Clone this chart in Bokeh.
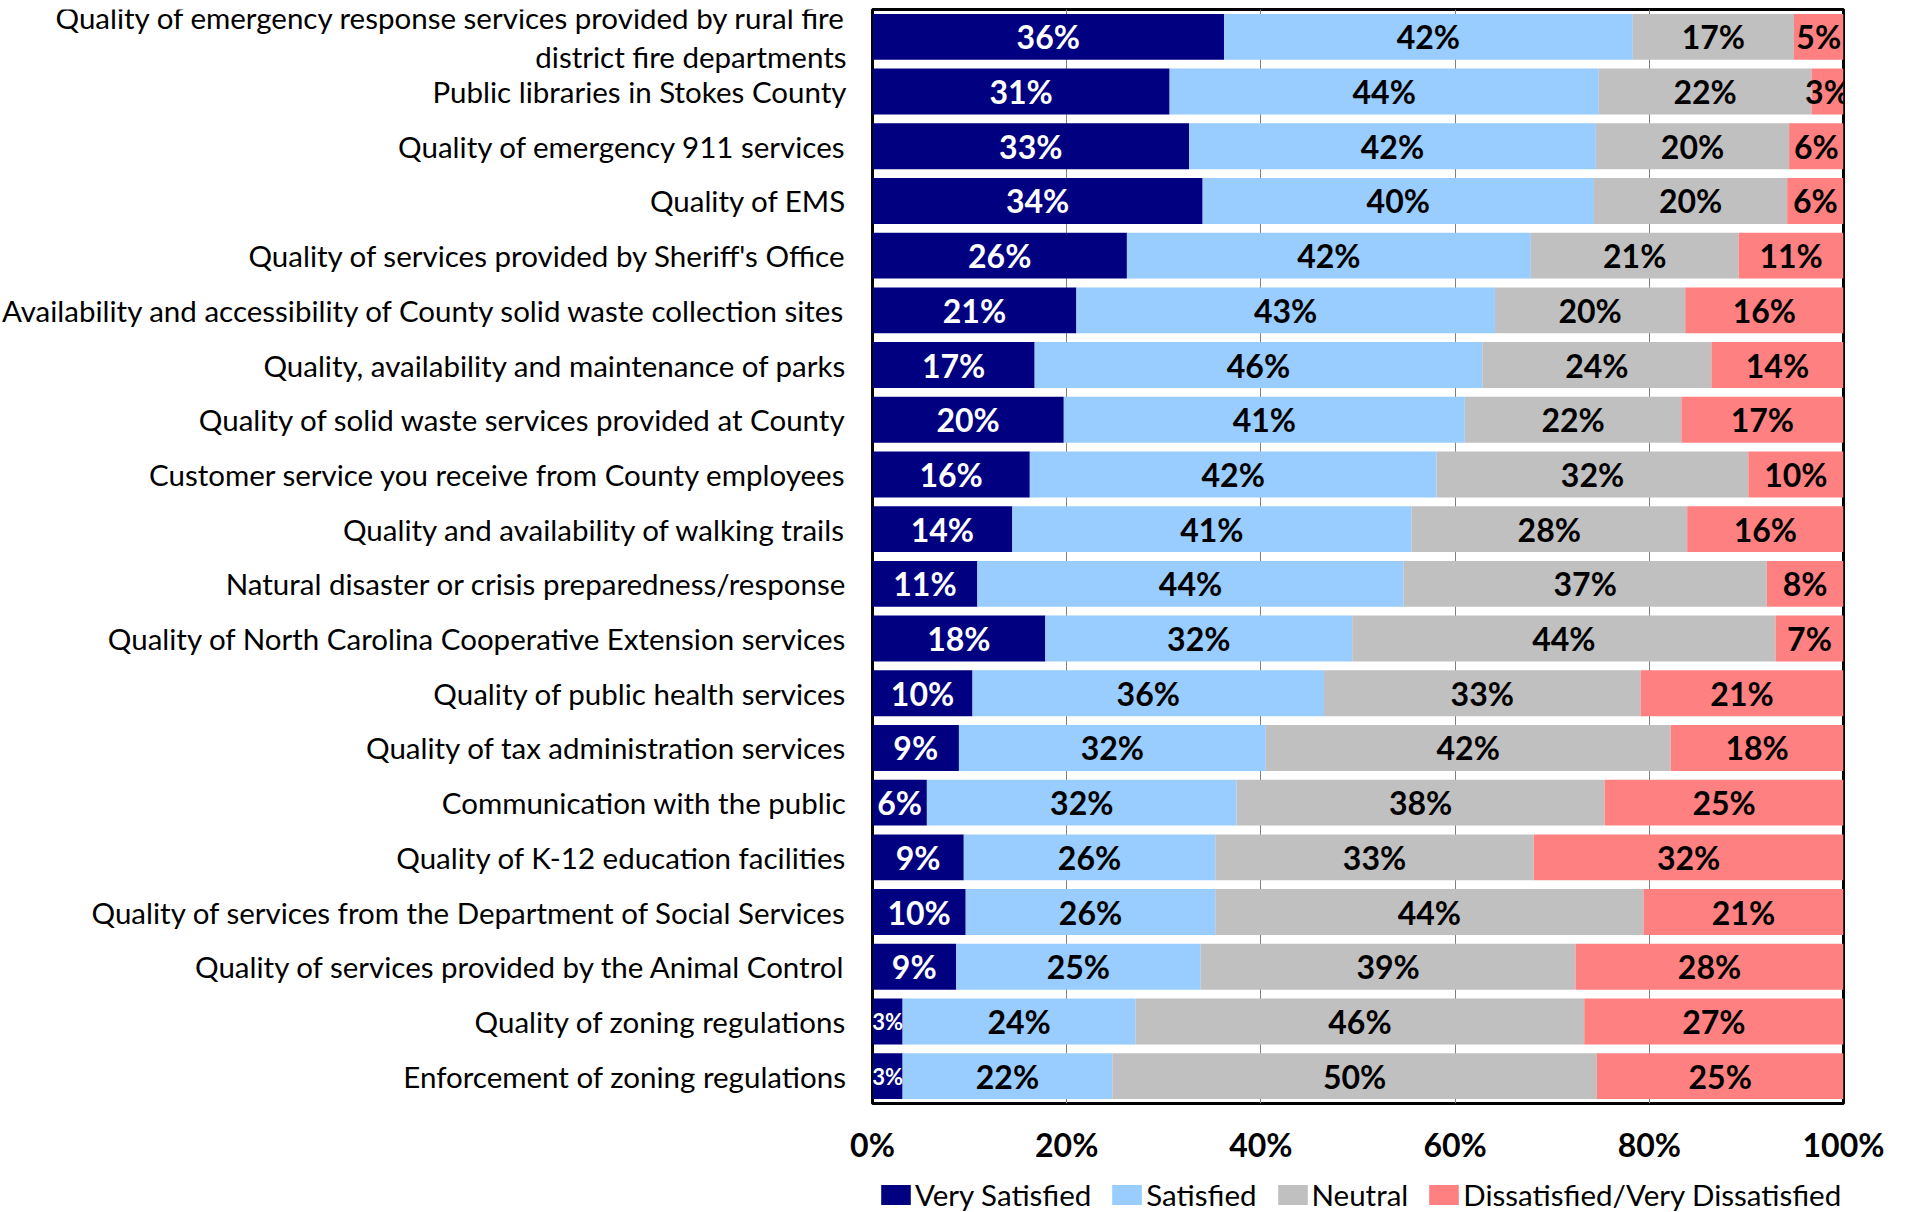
from bokeh.plotting import figure
from bokeh.models import (ColumnDataSource, FactorRange, FixedTicker, Range1d,
                          PrintfTickFormatter, Legend, LegendItem)
from bokeh.layouts import column, row
from bokeh.embed import file_html
from bokeh.resources import INLINE
from bokeh.core.properties import value

categories = [
    "Quality of emergency response services provided by rural fire\ndistrict fire departments",
    "Public libraries in Stokes County",
    "Quality of emergency 911 services",
    "Quality of EMS",
    "Quality of services provided by Sheriff's Office",
    "Availability and accessibility of County solid waste collection sites",
    "Quality, availability and maintenance of parks",
    "Quality of solid waste services provided at County",
    "Customer service you receive from County employees",
    "Quality and availability of walking trails",
    "Natural disaster or crisis preparedness/response",
    "Quality of North Carolina Cooperative Extension services",
    "Quality of public health services",
    "Quality of tax administration services",
    "Communication with the public",
    "Quality of K-12 education facilities",
    "Quality of services from the Department of Social Services",
    "Quality of services provided by the Animal Control",
    "Quality of zoning regulations",
    "Enforcement of zoning regulations",
]

very_satisfied = [36.2, 30.6, 32.6, 34.0, 26.2, 21.0, 16.7, 19.7, 16.2, 14.4,
                  10.8, 17.8, 10.3, 8.9, 5.6, 9.4, 9.6, 8.6, 3.1, 3.1]
satisfied = [42.1, 44.2, 41.9, 40.3, 41.6, 43.1, 46.1, 41.3, 41.9, 41.1,
             43.9, 31.6, 36.2, 31.6, 31.9, 25.9, 25.7, 25.2, 24.0, 21.6]
neutral = [16.6, 21.9, 19.9, 19.9, 21.4, 19.6, 23.6, 22.3, 32.1, 28.4,
           37.4, 43.6, 32.6, 41.7, 37.9, 32.8, 44.1, 38.6, 46.2, 49.9]
dissatisfied = [5.1, 3.3, 5.6, 5.8, 10.8, 16.3, 13.6, 16.7, 9.8, 16.1,
                7.9, 7.0, 20.9, 17.8, 24.6, 31.9, 20.6, 27.6, 26.7, 25.4]

series_names = ["Very Satisfied", "Satisfied", "Neutral",
                "Dissatisfied/Very Dissatisfied"]
series_keys = ["vs", "s", "n", "d"]
colors = ["#000080", "#99CCFF", "#C0C0C0", "#FF8080"]
text_colors = ["white", "black", "black", "black"]
x_ticks = [0, 20, 40, 60, 80, 100]

FONT = "Lato"
LABEL_W = 848          # width of the category-label column
TOP, BOTTOM = 9, 60    # borders above / below the plot frame
MAIN_H = 1166

src = ColumnDataSource(dict(cat=categories, vs=very_satisfied, s=satisfied,
                            n=neutral, d=dissatisfied))
yr = FactorRange(factors=categories[::-1])

# ---------------- main bar chart ----------------
p = figure(width=1906 - LABEL_W, height=MAIN_H, y_range=yr, x_range=(0, 100),
           output_backend="svg", toolbar_location=None, y_axis_location=None,
           min_border_left=24, min_border_right=63,
           min_border_top=TOP, min_border_bottom=BOTTOM)

renderers = p.hbar_stack(series_keys, y="cat", height=0.84, color=colors,
                         line_color=None, source=src)

lx, ly, lt, lc, ls = [], [], [], [], []
all_series = [very_satisfied, satisfied, neutral, dissatisfied]
for i, cat in enumerate(categories):
    left = 0.0
    for k, ser in enumerate(all_series):
        v = ser[i]
        lx.append(left + v / 2.0)
        ly.append(cat)
        lt.append(f"{round(v)}%")
        lc.append(text_colors[k])
        ls.append("22px" if (k == 0 and v < 5) else "32px")
        left += v
lab_src = ColumnDataSource(dict(x=lx, y=ly, t=lt, c=lc, fs=ls))
p.text(x="x", y="y", text="t", text_color="c", text_font_size="fs",
       text_font=value(FONT), text_font_style="bold",
       text_align="center", text_baseline="middle", source=lab_src)

p.xaxis.ticker = FixedTicker(ticks=x_ticks)
p.xaxis.formatter = PrintfTickFormatter(format="%d%%")
p.xaxis.major_label_text_font = FONT
p.xaxis.major_label_text_font_style = "bold"
p.xaxis.major_label_text_font_size = "32px"
p.xaxis.major_label_text_color = "black"
p.xaxis.major_label_standoff = 15
p.xaxis.axis_line_color = None
p.xaxis.major_tick_line_color = None
p.xaxis.minor_tick_line_color = None

p.ygrid.grid_line_color = None
p.xgrid.ticker = FixedTicker(ticks=x_ticks[1:-1])
p.xgrid.grid_line_color = "#808080"
p.xgrid.grid_line_width = 1
p.outline_line_color = "black"
p.outline_line_width = 3

# ---------------- category labels ----------------
lf = figure(width=LABEL_W, height=MAIN_H, y_range=yr,
            x_range=Range1d(0, LABEL_W),
            output_backend="svg", toolbar_location=None,
            x_axis_location=None, y_axis_location=None,
            min_border_left=0, min_border_right=0,
            min_border_top=TOP, min_border_bottom=BOTTOM)
lf.grid.visible = False
lf.outline_line_color = None
cat_src = ColumnDataSource(dict(x=[LABEL_W - 2] * len(categories),
                                y=categories, t=categories))
lf.text(x="x", y="y", text="t", text_font=value(FONT),
        text_font_size="29.5px", text_color="black",
        text_align="right", text_baseline="middle",
        text_line_height=1.1, source=cat_src)

# ---------------- legend strip ----------------
q = figure(width=1906, height=1212 - MAIN_H, x_range=(0, 1), y_range=(0, 1),
           output_backend="svg", toolbar_location=None,
           x_axis_location=None, y_axis_location=None,
           min_border_left=0, min_border_right=0,
           min_border_top=0, min_border_bottom=0)
q.grid.visible = False
q.outline_line_color = None
# proxy renderers for the legend swatches (their single point lies outside
# the strip's visible range, only the swatch is drawn)
proxy_src = ColumnDataSource(dict(y=[-10.0], right=[1.0]))
proxies = [q.hbar(y="y", right="right", height=1, color=c, line_color=None,
                  source=proxy_src)
           for c in colors]
legend = Legend(items=[LegendItem(label=n, renderers=[r])
                       for n, r in zip(series_names, proxies)],
                orientation="horizontal", location=(877, 0),
                glyph_width=37, glyph_height=25, label_standoff=1,
                spacing=17, padding=0, margin=0,
                border_line_color=None, background_fill_alpha=0,
                label_text_font=FONT, label_text_font_size="29.5px",
                label_text_color="black")
q.add_layout(legend, "center")

layout = column(row(lf, p), q)
open("out.html", "w").write(file_html(layout, INLINE))
